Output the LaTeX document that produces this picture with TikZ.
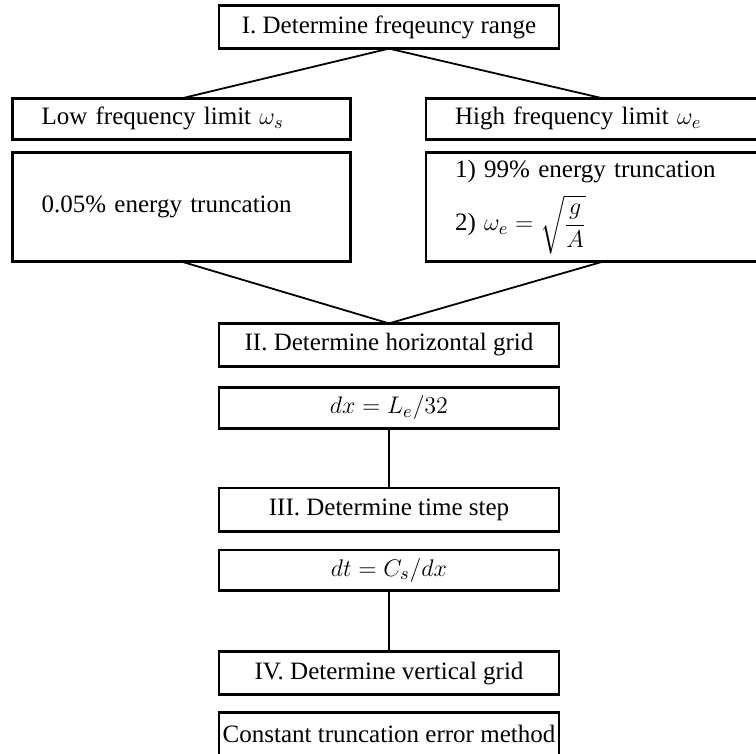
\documentclass[tikz,border=0pt]{standalone}
\usepackage{amsmath}
\usepackage{fontspec}
\setmainfont{Liberation Serif}
\usetikzlibrary{positioning}

\begin{document}
\begin{tikzpicture}[
  x=1pt, y=1pt,
  every node/.style={font=\fontsize{12.5}{15}\selectfont},
  box/.style   = {draw, line width=1.4pt, inner sep=0pt, outer sep=0pt},
  stage/.style = {box, align=center, minimum width=170pt, minimum height=21.6pt},
  rule/.style  = {box, align=center, minimum width=170pt, minimum height=20.4pt},
  lim/.style   = {box, align=left, inner xsep=14.5pt, minimum height=20.4pt},
  crit/.style  = {lim, minimum height=54.6pt},
  link/.style  = {line width=0.9pt},
]
  \useasboundingbox (0,0) rectangle (378,-377);
  \node[stage] (freq) at (194.5,-13.5) {I. Determine freqeuncy range};
  \node[lim, text width=140pt, below=24.9pt of freq, xshift=-103.75pt] (low)  {Low frequency limit $\omega_s$};
  \node[lim, text width=148pt, below=24.9pt of freq, xshift=107pt]     (high) {High frequency limit $\omega_e$};
  \node[crit, text width=140pt, below=6.6pt of low]  (lowcrit)  {0.05\% energy truncation};
  \node[crit, text width=148pt, below=6.6pt of high] (highcrit)
    {1) 99\% energy truncation\\[5pt]2) {\fontsize{13}{15}\selectfont$\omega_e = \sqrt{\dfrac{g}{A}}$}};
  \coordinate (split) at (freq.south |- lowcrit.south);
  \node[stage, below=30.9pt of split] (hgrid)  {II. Determine horizontal grid};
  \node[rule,  below=10.4pt of hgrid] (dxrule) {$dx = L_e/32$};
  \node[stage, below=29.9pt of dxrule] (tstep) {III. Determine time step};
  \node[rule,  below=9.4pt of tstep]  (dtrule) {$dt = C_s/dx$};
  \node[stage, below=30.4pt of dtrule] (vgrid) {IV. Determine vertical grid};
  \node[rule,  below=8.9pt of vgrid, minimum height=21.6pt] (cte) {Constant truncation error method};
  \foreach \a/\b in {freq/low,freq/high,lowcrit/hgrid,highcrit/hgrid,dxrule/tstep,dtrule/vgrid}\draw[link](\a.south)--(\b.north);
\end{tikzpicture}
\end{document}
